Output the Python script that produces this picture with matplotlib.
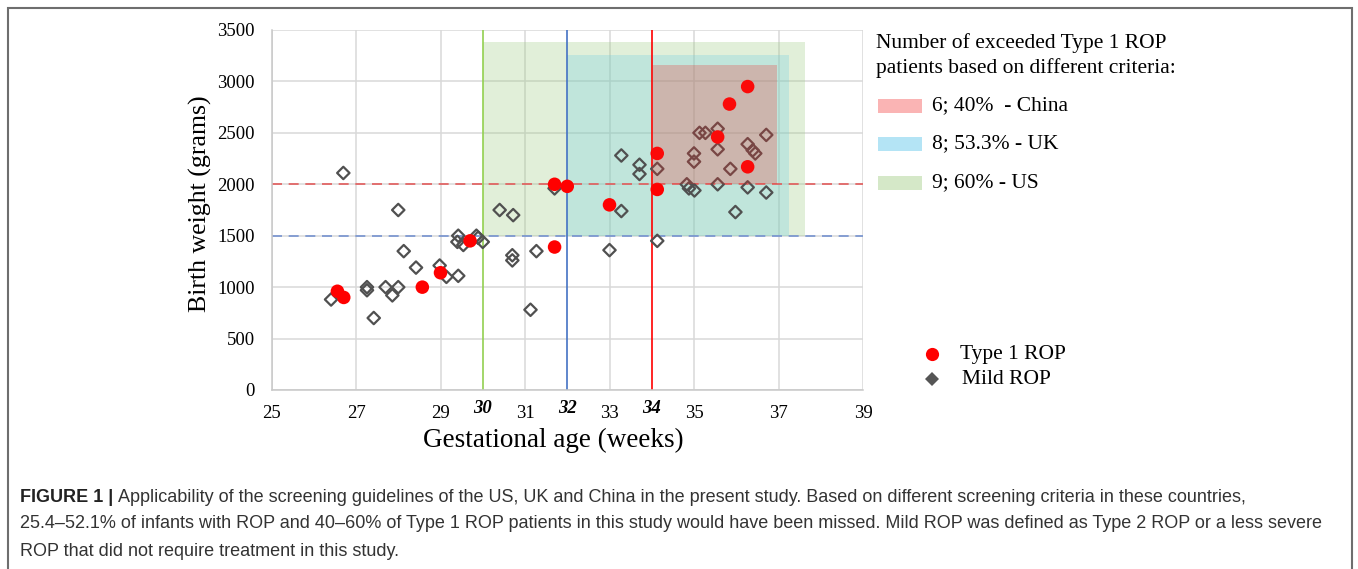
import numpy as np
import matplotlib
matplotlib.use("Agg")
import matplotlib.pyplot as plt
from matplotlib.patches import Rectangle
from matplotlib.lines import Line2D

# data
type1_ga = [26.56, 26.71, 28.57, 29.0, 29.7, 31.7, 32.0, 31.7, 33.0, 34.13, 34.13, 35.56, 35.84, 36.27, 36.27]
type1_bw = [960, 900, 1000, 1140, 1450, 2000, 1980, 1390, 1800, 2300, 1950, 2460, 2780, 2950, 2170]

mild_ga = [26.41, 26.70, 27.26, 27.26, 27.42, 27.70, 27.86, 28.0, 28.0, 28.13, 28.42, 28.98, 29.14,
           29.42, 29.42, 29.40, 29.54, 29.85, 29.89, 30.0, 30.4, 30.72, 30.7, 30.7, 31.27, 31.13,
           31.7, 33.0, 33.28, 33.28, 33.71, 33.71, 34.13, 34.13, 34.83, 34.88, 35.01, 35.0, 35.0,
           35.13, 35.27, 35.56, 35.56, 35.56, 35.86, 35.98, 36.27, 36.27, 36.39, 36.45, 36.71, 36.71]
mild_bw = [880, 2110, 1000, 970, 700, 1000, 920, 1000, 1750, 1350, 1190, 1210, 1100,
           1110, 1500, 1440, 1410, 1500, 1480, 1440, 1750, 1700, 1310, 1260, 1350, 780,
           1960, 1360, 1740, 2280, 2190, 2100, 2150, 1450, 2000, 1960, 1940, 2300, 2220,
           2500, 2500, 2540, 2340, 2000, 2150, 1730, 2390, 1970, 2330, 2300, 2480, 1920]

# screening zones (weeks, grams)
zone_names = ["US", "UK", "China"]
zone_ga_lo = [30, 32, 34]
zone_ga_hi = [37.63, 37.24, 36.97]
zone_bw_lo = [1500, 1500, 2000]
zone_bw_hi = [3380, 3260, 3160]
zone_labels = ["9; 60% - US", "8; 53.3% - UK", "6; 40%  - China"]

cutoff_bw = [2000, 1500]
cutoff_ga = [30, 32, 34]

x_ticks = [25, 27, 29, 31, 33, 35, 37, 39]
x_extra = [30, 32, 34]
y_ticks = [0, 500, 1000, 1500, 2000, 2500, 3000, 3500]

W, H = 1358, 569
SERIF = "Liberation Serif"
SANS = "Liberation Sans"

fig = plt.figure(figsize=(W / 100, H / 100), dpi=100)
ax = fig.add_axes([271.5 / W, 1 - 390 / H, (863 - 271.5) / W, (390 - 30) / H])

# zones
zone_fill = ["#9eca84", "#74cee1", "#f12924"]
zone_alpha = [0.3, 0.3, 0.25]
zone_z = [0.6, 0.7, 4]
for i in range(3):
    ax.add_patch(Rectangle((zone_ga_lo[i], zone_bw_lo[i]), zone_ga_hi[i] - zone_ga_lo[i],
                           zone_bw_hi[i] - zone_bw_lo[i], facecolor=zone_fill[i],
                           alpha=zone_alpha[i], edgecolor="none", zorder=zone_z[i]))

# cut-off lines
ax.axhline(cutoff_bw[0], color="#e25b5b", lw=1.2, ls=(0, (6, 4)), zorder=2)
ax.axhline(cutoff_bw[1], color="#7592d0", lw=1.2, ls=(0, (6, 4)), zorder=2)
for g, c in zip(cutoff_ga, ["#92d050", "#4472c4", "#ff0000"]):
    ax.axvline(g, color=c, lw=1.2, zorder=2)

ax.scatter(mild_ga, mild_bw, marker="D", s=40, facecolor="none", edgecolor="#505050",
           linewidths=1.6, zorder=3)
ax.scatter(type1_ga, type1_bw, marker="o", s=95, color="#ff0000", edgecolor="none", zorder=3.5)

ax.set_xlim(25, 39)
ax.set_ylim(0, 3500)
ax.set_xticks(x_ticks)
ax.set_xticklabels([str(v) for v in x_ticks], fontfamily=SERIF, fontsize=13.5)
ax.set_xticks(x_extra, minor=True)
ax.set_xticklabels([str(v) for v in x_extra], minor=True, fontfamily=SERIF, fontsize=13.5,
                   fontweight="bold", fontstyle="italic")
ax.set_yticks(y_ticks)
ax.set_yticklabels([str(v) for v in y_ticks], fontfamily=SERIF, fontsize=13.5)
ax.tick_params(axis="x", which="major", length=0, pad=11)
ax.tick_params(axis="x", which="minor", length=0, pad=7)
ax.tick_params(axis="y", length=0, pad=12)
ax.grid(True, which="major", color="#d9d9d9", lw=1.1)
ax.set_axisbelow(True)
for s in ["top", "right"]:
    ax.spines[s].set_visible(False)
for s in ["left", "bottom"]:
    ax.spines[s].set_color("#c8c8c8")
    ax.spines[s].set_linewidth(1.1)

ax.set_xlabel("Gestational age (weeks)", fontfamily=SERIF, fontsize=19.5, labelpad=4)
ax.set_ylabel("Birth weight (grams)", fontfamily=SERIF, fontsize=18.6, labelpad=4)
ax.xaxis.label.set_x(0.476)
ax.yaxis.label.set_y(0.518)


def fx(x):
    return x / W


def fy(y):
    return 1 - y / H


# zone legend
fig.text(fx(876), fy(43), "Number of exceeded Type 1 ROP", fontfamily=SERIF, fontsize=15.5,
         va="center", ha="left")
fig.text(fx(876), fy(68), "patients based on different criteria:", fontfamily=SERIF, fontsize=15.5,
         va="center", ha="left")
leg_colors = ["#fab4b4", "#b4e4f5", "#d5e8c8"]
leg_rows = [106, 144, 183]
for txt, col, yy in zip(zone_labels[::-1], leg_colors, leg_rows):
    fig.add_artist(Rectangle((fx(878), fy(yy + 7)), 44 / W, 14 / H, facecolor=col,
                             edgecolor="none", transform=fig.transFigure))
    fig.text(fx(932), fy(yy), txt, fontfamily=SERIF, fontsize=15.5, va="center", ha="left")

# marker legend
fig.add_artist(Line2D([fx(932)], [fy(354)], marker="o", markersize=9.5, color="#ff0000",
                      markeredgewidth=0, transform=fig.transFigure))
fig.add_artist(Line2D([fx(932)], [fy(379)], marker="D", markersize=7.5, color="#555555",
                      markeredgewidth=0, transform=fig.transFigure))
fig.text(fx(960), fy(354), "Type 1 ROP", fontfamily=SERIF, fontsize=15.5, va="center", ha="left")
fig.text(fx(962), fy(379), "Mild ROP", fontfamily=SERIF, fontsize=15.5, va="center", ha="left")

# frame around the figure
fig.add_artist(Rectangle((fx(8), fy(580)), (1352 - 8) / W, (580 - 8) / H, facecolor="none",
                         edgecolor="#6e6e6e", lw=1.5, transform=fig.transFigure))

# caption
renderer = fig.canvas.get_renderer()
cap_x = fx(20)
cap_fs = 13
bold = fig.text(cap_x, fy(497), "FIGURE 1 |", fontfamily=SANS, fontsize=cap_fs, fontweight="bold",
                color="#222222", va="center", ha="left")
bb = bold.get_window_extent(renderer)
fig.text((bb.x1 + 5) / W, fy(497),
         "Applicability of the screening guidelines of the US, UK and China in the present study. "
         "Based on different screening criteria in these countries,",
         fontfamily=SANS, fontsize=cap_fs, color="#333333", va="center", ha="left")
fig.text(cap_x, fy(524),
         "25.4\u201352.1% of infants with ROP and 40\u201360% of Type 1 ROP patients in this study "
         "would have been missed. Mild ROP was defined as Type 2 ROP or a less severe",
         fontfamily=SANS, fontsize=cap_fs, color="#333333", va="center", ha="left")
fig.text(cap_x, fy(551), "ROP that did not require treatment in this study.",
         fontfamily=SANS, fontsize=cap_fs, color="#333333", va="center", ha="left")

fig.savefig("out.png", dpi=100)
